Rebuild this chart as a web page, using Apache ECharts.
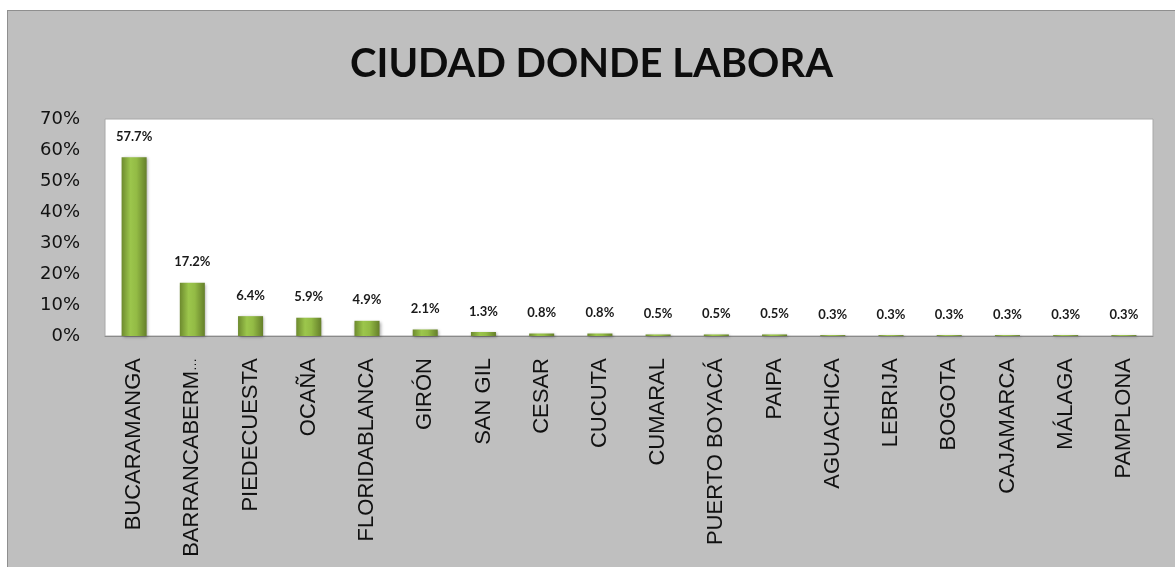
<!DOCTYPE html>
<html>
<head>
<meta charset="utf-8">
<script src="https://cdn.jsdelivr.net/npm/echarts@6/dist/echarts.min.js"></script>
<style>
  html, body { margin: 0; padding: 0; background: #ffffff; }
  #chart {
    position: absolute; left: 7px; top: 10px;
    width: 1168px; height: 557px;
    border-left: 1px solid #8f8f8f; border-top: 1px solid #8f8f8f;
    box-sizing: border-box;
  }
</style>
</head>
<body>
<div id="chart"></div>
<script>
// Ciudades donde labora el personal encuestado (porcentaje)
const titleText = 'CIUDAD DONDE LABORA';
const cities = [
  'BUCARAMANGA', 'BARRANCABERMEJA', 'PIEDECUESTA', 'OCAÑA', 'FLORIDABLANCA',
  'GIRÓN', 'SAN GIL', 'CESAR', 'CUCUTA', 'CUMARAL', 'PUERTO BOYACÁ', 'PAIPA',
  'AGUACHICA', 'LEBRIJA', 'BOGOTA', 'CAJAMARCA', 'MÁLAGA', 'PAMPLONA'
];
const percents = [57.7, 17.2, 6.4, 5.9, 4.9, 2.1, 1.3, 0.8, 0.8, 0.5, 0.5, 0.5, 0.3, 0.3, 0.3, 0.3, 0.3, 0.3];
const yMin = 0, yMax = 70, yStep = 10;

const chart = echarts.init(document.getElementById('chart'));

const barFill = new echarts.graphic.LinearGradient(0, 0, 1, 0, [
  { offset: 0, color: '#6d8a2e' },
  { offset: 0.35, color: '#9cc64c' },
  { offset: 0.6, color: '#93bb45' },
  { offset: 1, color: '#657f2a' }
]);

chart.setOption({
  backgroundColor: '#bfbfbf',
  animation: false,
  title: {
    text: titleText,
    left: 'center',
    top: 28,
    textStyle: { fontFamily: 'Lato', fontWeight: 'bold', fontSize: 40, color: '#0d0d0d' }
  },
  grid: {
    left: 97, top: 108, right: 22, bottom: 231,
    show: true, backgroundColor: '#ffffff', borderColor: '#a8a8a8', borderWidth: 1
  },
  xAxis: {
    type: 'category',
    data: cities,
    axisLine: { lineStyle: { color: '#8a8a8a' } },
    axisTick: { show: false },
    axisLabel: {
      rotate: 90, interval: 0, margin: 22,
      fontFamily: 'Liberation Sans', fontSize: 22, color: '#111111',
      // long names are cut short with an ellipsis
      formatter: s => s.length > 13 ? s.slice(0, 12) + '{e|…}' : s,
      rich: { e: { fontFamily: 'Liberation Sans', fontSize: 13, color: '#111111' } }
    }
  },
  yAxis: {
    type: 'value',
    min: yMin, max: yMax, interval: yStep,
    axisLine: { show: false },
    axisTick: { show: false },
    splitLine: { show: false },
    axisLabel: {
      margin: 25, fontFamily: 'DejaVu Sans', fontSize: 18, color: '#111111',
      formatter: v => v + '%'
    }
  },
  series: [{
    type: 'bar',
    data: percents,
    barWidth: '43%',
    itemStyle: {
      color: barFill,
      shadowColor: 'rgba(0,0,0,0.35)', shadowBlur: 3, shadowOffsetX: 1, shadowOffsetY: 1
    },
    label: {
      show: true, position: 'top', distance: 14,
      fontFamily: 'Lato', fontWeight: 'bold', fontSize: 13, color: '#1a1a1a',
      formatter: p => p.value.toFixed(1) + '%'
    }
  }]
});
</script>
</body>
</html>
